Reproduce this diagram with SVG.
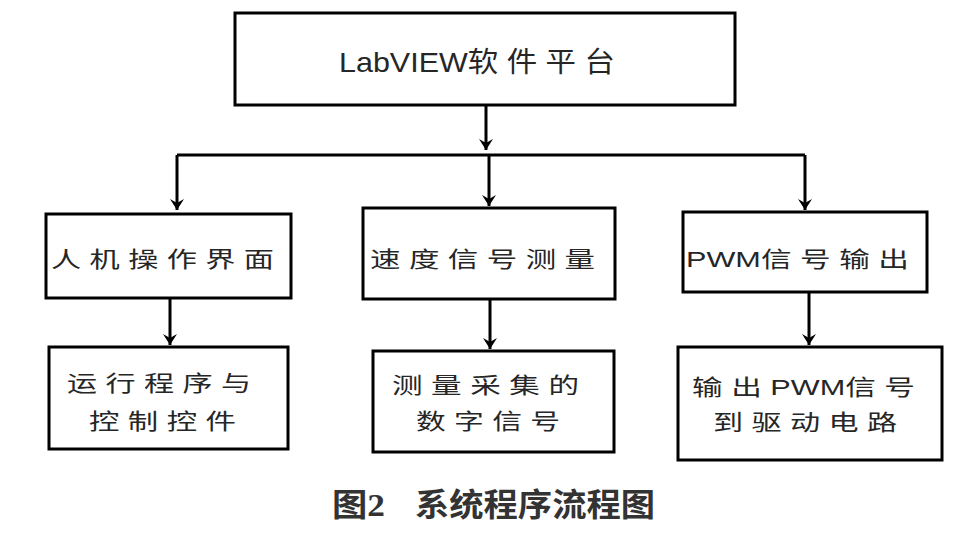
<svg xmlns="http://www.w3.org/2000/svg" width="960" height="541" viewBox="0 0 960 541">
<defs>
<style>
.box{fill:#fff;stroke:#000;stroke-width:3}
.t{font-family:"Liberation Sans","Noto Sans CJK SC",sans-serif;fill:#262626}
.ln{stroke:#000;stroke-width:3;fill:none}
.cap{font-family:"Liberation Serif","Noto Sans CJK SC",serif;font-weight:bold;fill:#333;font-size:32px}
</style>
<marker id="ah" markerUnits="userSpaceOnUse" markerWidth="16" markerHeight="14" refX="7" refY="13" orient="0" viewBox="0 0 14 14">
<path d="M0,2 L7,13 L14,2 L7,6 Z" fill="#000"/>
</marker>
</defs>
<rect width="960" height="541" fill="#fff"/>
<g id="connectors">
<path class="ln" d="M486,105 V150" marker-end="url(#ah)"/>
<path class="ln" d="M177,155 H805"/>
<path class="ln" d="M177,155 V210" marker-end="url(#ah)"/>
<path class="ln" d="M489,155 V206" marker-end="url(#ah)"/>
<path class="ln" d="M805,155 V210" marker-end="url(#ah)"/>
<path class="ln" d="M170,298 V345" marker-end="url(#ah)"/>
<path class="ln" d="M490,299 V349" marker-end="url(#ah)"/>
<path class="ln" d="M809,292 V345" marker-end="url(#ah)"/>
</g>
<g id="n_top">
<rect class="box" x="235" y="13" width="500" height="92"/>
<text class="t" x="339" y="72" font-size="28" textLength="276" lengthAdjust="spacingAndGlyphs">LabVIEW软 件 平 台</text>
</g>
<g id="n_hmi">
<rect class="box" x="46" y="214" width="245" height="84"/>
<text class="t" x="51" y="267" font-size="22" textLength="223" lengthAdjust="spacingAndGlyphs">人 机 操 作 界 面</text>
</g>
<g id="n_speed">
<rect class="box" x="363" y="208" width="252" height="91"/>
<text class="t" x="370" y="267" font-size="22" textLength="225" lengthAdjust="spacingAndGlyphs">速 度 信 号 测 量</text>
</g>
<g id="n_pwm">
<rect class="box" x="683" y="212" width="244" height="80"/>
<text class="t" x="686" y="267" font-size="22" textLength="223" lengthAdjust="spacingAndGlyphs">PWM信 号 输 出</text>
</g>
<g id="n_run">
<rect class="box" x="49" y="347" width="239" height="102"/>
<text class="t" x="67" y="391" font-size="22" textLength="184" lengthAdjust="spacingAndGlyphs">运 行 程 序 与</text>
<text class="t" x="89" y="429" font-size="22" textLength="147" lengthAdjust="spacingAndGlyphs">控 制 控 件</text>
</g>
<g id="n_meas">
<rect class="box" x="373" y="351" width="241" height="101"/>
<text class="t" x="392" y="393" font-size="22" textLength="187" lengthAdjust="spacingAndGlyphs">测 量 采 集 的</text>
<text class="t" x="416" y="429" font-size="22" textLength="144" lengthAdjust="spacingAndGlyphs">数 字 信 号</text>
</g>
<g id="n_out">
<rect class="box" x="678" y="347" width="264" height="113"/>
<text class="t" x="692" y="395" font-size="22" textLength="223" lengthAdjust="spacingAndGlyphs">输 出 PWM信 号</text>
<text class="t" x="713" y="430" font-size="22" textLength="184" lengthAdjust="spacingAndGlyphs">到 驱 动 电 路</text>
</g>
<g id="caption">
<text class="cap" x="332" y="516" textLength="53" lengthAdjust="spacingAndGlyphs">图2</text>
<text class="cap" x="415" y="516" textLength="240" lengthAdjust="spacingAndGlyphs">系统程序流程图</text>
</g>
</svg>
